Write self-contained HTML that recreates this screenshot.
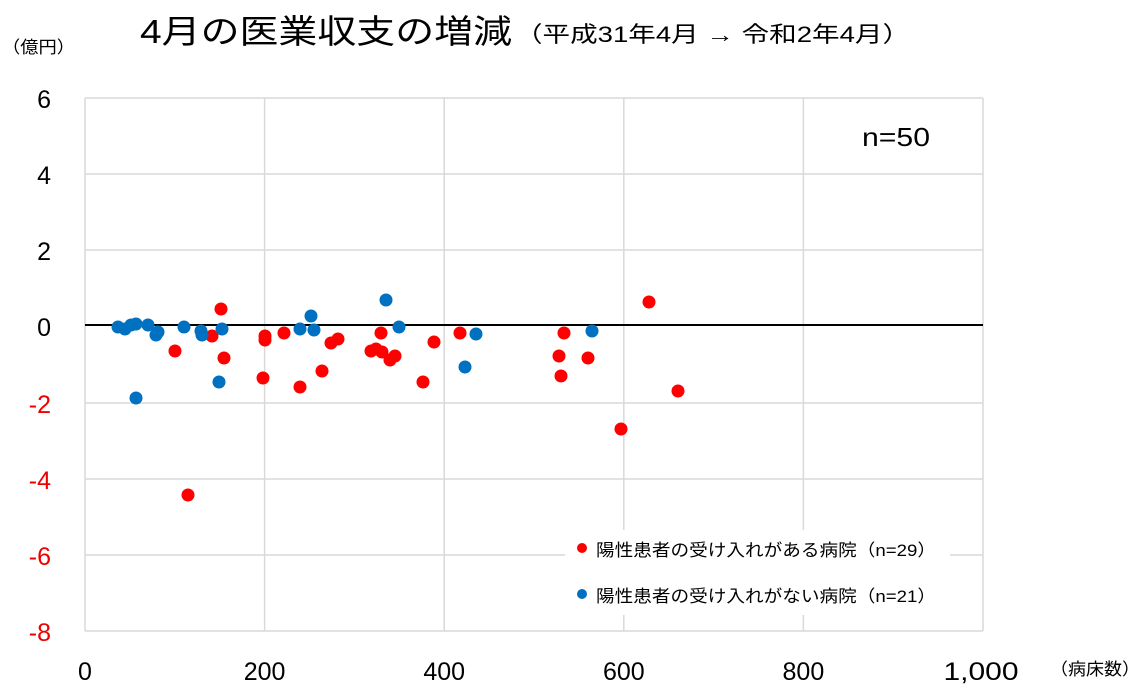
<!DOCTYPE html>
<html><head><meta charset="utf-8"><style>
body{margin:0;background:#fff;}
svg{display:block;font-family:"Liberation Sans","Noto Sans CJK JP",sans-serif;}
</style></head><body>
<svg width="1143" height="695" viewBox="0 0 1143 695">
<rect width="1143" height="695" fill="#fff"/>
<text x="140" y="43" font-size="33" fill="#000" textLength="372" lengthAdjust="spacingAndGlyphs">4月の医業収支の増減</text>
<text x="515" y="42" font-size="22" fill="#000" textLength="395" lengthAdjust="spacingAndGlyphs">（平成31年4月 → 令和2年4月）</text>
<text x="2" y="53" font-size="17" fill="#000" textLength="73" lengthAdjust="spacingAndGlyphs">（億円）</text>
<g stroke="#d9d9d9" stroke-width="1.5" fill="none">
<line x1="85" y1="98" x2="983" y2="98"/>
<line x1="85" y1="174" x2="983" y2="174"/>
<line x1="85" y1="250" x2="983" y2="250"/>
<line x1="85" y1="403" x2="983" y2="403"/>
<line x1="85" y1="479" x2="983" y2="479"/>
<line x1="85" y1="555" x2="983" y2="555"/>
<line x1="85" y1="631" x2="983" y2="631"/>
<line x1="85" y1="98" x2="85" y2="631"/>
<line x1="264.6" y1="98" x2="264.6" y2="631"/>
<line x1="444.2" y1="98" x2="444.2" y2="631"/>
<line x1="623.8" y1="98" x2="623.8" y2="631"/>
<line x1="803.4" y1="98" x2="803.4" y2="631"/>
<line x1="983" y1="98" x2="983" y2="631"/>
</g>
<line x1="85" y1="325" x2="983" y2="325" stroke="#000" stroke-width="2"/>
<g font-size="25" text-anchor="end">
<text x="51" y="108" fill="#000">6</text>
<text x="51" y="184" fill="#000">4</text>
<text x="51" y="260" fill="#000">2</text>
<text x="51" y="336" fill="#000">0</text>
<text x="51" y="413" fill="#e00">-2</text>
<text x="51" y="489" fill="#e00">-4</text>
<text x="51" y="565" fill="#e00">-6</text>
<text x="51" y="641" fill="#e00">-8</text>
</g>
<g font-size="25" text-anchor="middle" fill="#000">
<text x="85" y="680">0</text>
<text x="264.6" y="680">200</text>
<text x="444.2" y="680">400</text>
<text x="623.8" y="680">600</text>
<text x="803.4" y="680">800</text>
<text x="981" y="680" textLength="75" lengthAdjust="spacingAndGlyphs">1,000</text>
</g>
<text x="1050" y="675" font-size="17" textLength="90" lengthAdjust="spacingAndGlyphs">（病床数）</text>
<text x="862" y="146" font-size="26" textLength="68" lengthAdjust="spacingAndGlyphs">n=50</text>
<g fill="#ff0000">
<circle cx="175" cy="351" r="6.5"/><circle cx="212" cy="336" r="6.5"/><circle cx="221" cy="309" r="6.5"/><circle cx="224" cy="358" r="6.5"/><circle cx="188" cy="495" r="6.5"/><circle cx="263" cy="378" r="6.5"/><circle cx="265" cy="336" r="6.5"/><circle cx="265" cy="340" r="6.5"/><circle cx="284" cy="333" r="6.5"/><circle cx="300" cy="387" r="6.5"/><circle cx="322" cy="371" r="6.5"/><circle cx="331" cy="343" r="6.5"/><circle cx="338" cy="339" r="6.5"/><circle cx="371" cy="351" r="6.5"/><circle cx="376" cy="349" r="6.5"/><circle cx="381" cy="333" r="6.5"/><circle cx="382" cy="352" r="6.5"/><circle cx="390" cy="360" r="6.5"/><circle cx="395" cy="356" r="6.5"/><circle cx="423" cy="382" r="6.5"/><circle cx="434" cy="342" r="6.5"/><circle cx="460" cy="333" r="6.5"/><circle cx="559" cy="356" r="6.5"/><circle cx="561" cy="376" r="6.5"/><circle cx="564" cy="333" r="6.5"/><circle cx="588" cy="358" r="6.5"/><circle cx="621" cy="429" r="6.5"/><circle cx="649" cy="302" r="6.5"/><circle cx="678" cy="391" r="6.5"/>
</g>
<g fill="#0070c0">
<circle cx="118" cy="327" r="6.5"/><circle cx="125" cy="329" r="6.5"/><circle cx="131" cy="325" r="6.5"/><circle cx="136" cy="324" r="6.5"/><circle cx="148" cy="325" r="6.5"/><circle cx="156" cy="335" r="6.5"/><circle cx="158" cy="332" r="6.5"/><circle cx="184" cy="327" r="6.5"/><circle cx="201" cy="331" r="6.5"/><circle cx="202" cy="335" r="6.5"/><circle cx="219" cy="382" r="6.5"/><circle cx="222" cy="329" r="6.5"/><circle cx="136" cy="398" r="6.5"/><circle cx="300" cy="329" r="6.5"/><circle cx="311" cy="316" r="6.5"/><circle cx="314" cy="330" r="6.5"/><circle cx="386" cy="300" r="6.5"/><circle cx="399" cy="327" r="6.5"/><circle cx="465" cy="367" r="6.5"/><circle cx="476" cy="334" r="6.5"/><circle cx="592" cy="331" r="6.5"/>
</g>
<rect x="565" y="530" width="385" height="85" fill="#fff"/>
<circle cx="582" cy="548" r="5" fill="#ff0000"/>
<text x="596" y="556" font-size="17" textLength="340" lengthAdjust="spacingAndGlyphs">陽性患者の受け入れがある病院（n=29）</text>
<circle cx="582" cy="594" r="5" fill="#0070c0"/>
<text x="596" y="602" font-size="17" textLength="340" lengthAdjust="spacingAndGlyphs">陽性患者の受け入れがない病院（n=21）</text>
</svg>
</body></html>
